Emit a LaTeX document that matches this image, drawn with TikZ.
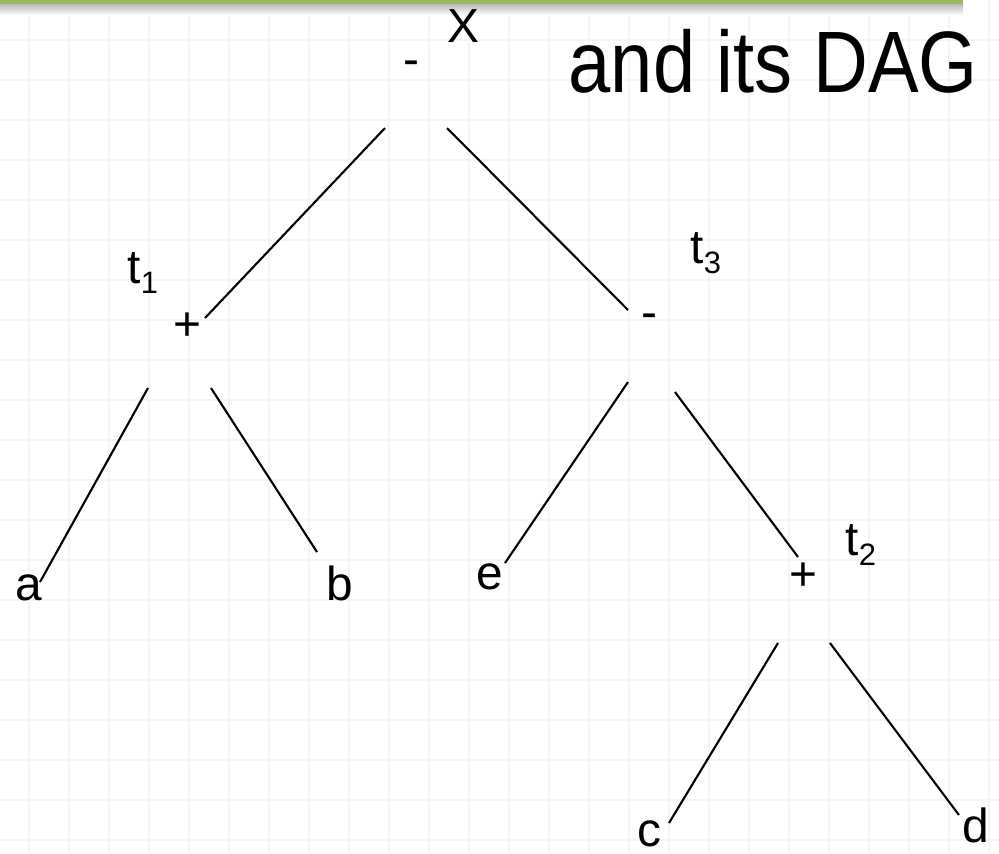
\documentclass[tikz,border=0pt]{standalone}
\usepackage{fontspec}
\setmainfont{Liberation Sans}
\usetikzlibrary{positioning}
\definecolor{slidegreen}{HTML}{9BBB59}
\definecolor{gridgray}{HTML}{F4F4F4}
\newcommand{\tsub}[1]{t\raisebox{-2.85pt}{\fontsize{8.8}{10}\selectfont #1}}
\tikzset{
  lbl/.style={font=\fontsize{13.6}{16}\selectfont, inner sep=0pt, anchor=base},
  tlbl/.style={lbl, anchor=base west},
  branch/.style={line width=0.6pt},
  gridline/.style={gridgray, line width=0.5pt}
}
\begin{document}
\begin{tikzpicture}[x=0.01cm, y=-0.01cm]
	\useasboundingbox (0,0) rectangle (999,853);
	% background grid
	\foreach \gx in {29,69,...,989} \draw[gridline] (\gx,0) -- (\gx,853);
	\foreach \gy in {40,80,...,840} \draw[gridline] (0,\gy) -- (999,\gy);
	% title bar
	\shade[top color=black!30, bottom color=white] (0,3) rectangle (963,15);
	\fill[slidegreen] (0,0) rectangle (963,3.5);
	\node[lbl, anchor=base west, font=\fontsize{24.8}{28}\selectfont] (dagtitle) at (568,92) {\scalebox{0.87}[1]{and its DAG}};
	% operators and leaves
	\node[lbl] (xlab) at (463,42) {X};
	\node[lbl] (minusTop) at (411,75) {-};
	\node[lbl] (plusL) at (187,340) {+};
	\node[lbl] (minusR) at (649,328) {-};
	\node[lbl] (plusR) at (803,590) {+};
	\node[tlbl] (tone) at (127,283) {\tsub{1}};
	\node[tlbl] (tthree) at (690,263) {\tsub{3}};
	\node[tlbl] (ttwo) at (845,555) {\tsub{2}};
	\node[lbl] (a) at (29,600) {a};
	\node[lbl] (b) at (340,600) {b};
	\node[lbl] (e) at (490,589) {e};
	\node[lbl] (c) at (649,846) {c};
	\node[lbl] (d) at (976,842) {d};
	% branch ends
	\coordinate (topL) at (385,128);   \coordinate (plusLtop) at (205,318);
	\coordinate (topR) at (447,128);   \coordinate (minusRtop) at (628,310);
	\coordinate (plusLbl) at (148,388); \coordinate (atop) at (40,582);
	\coordinate (plusLbr) at (211,388); \coordinate (btop) at (317,552);
	\coordinate (minusRbl) at (628,382); \coordinate (etop) at (505,563);
	\coordinate (minusRbr) at (675,392); \coordinate (plusRtop) at (798,557);
	\coordinate (plusRbl) at (778,643); \coordinate (ctop) at (669,823);
	\coordinate (plusRbr) at (830,643); \coordinate (dtop) at (959,815);
	\foreach \p/\q in {topL/plusLtop, topR/minusRtop, plusLbl/atop, plusLbr/btop,
		minusRbl/etop, minusRbr/plusRtop, plusRbl/ctop, plusRbr/dtop}
		\draw[branch] (\p) -- (\q);
\end{tikzpicture}
\end{document}
